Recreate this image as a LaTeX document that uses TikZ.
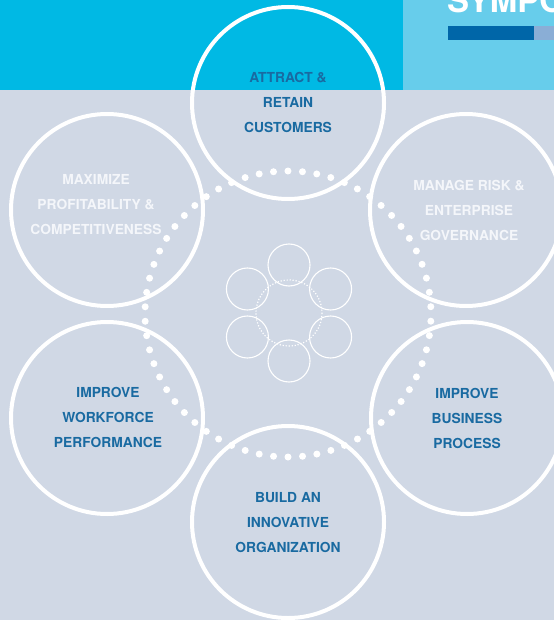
\documentclass[tikz,border=0pt]{standalone}
\usepackage{fontspec}
\setmainfont{TeX Gyre Heros}
\usetikzlibrary{calc}
\definecolor{sheet}{HTML}{D0D8E5}
\definecolor{band}{HTML}{00B9E4}
\definecolor{bandlight}{HTML}{67CDEB}
\definecolor{bardark}{HTML}{0066A8}
\definecolor{barpale}{HTML}{8AAED6}
\definecolor{goalblue}{HTML}{196AA1}
\definecolor{goalpale}{HTML}{F4F6FA}
\tikzset{
	x=1pt, y=-1pt,
	bigring/.style={circle, draw=white, line width=4pt, minimum size=192pt, inner sep=0pt},
	smallring/.style={circle, draw=white, line width=1.1pt, minimum size=42pt, inner sep=0pt},
	goal/.style={align=center, text=goalblue, font=\bfseries\fontsize{13.8}{25}\selectfont},
	palegoal/.style={goal, text=goalpale},
	heading/.style={anchor=base west, inner sep=0pt, text=white, font=\bfseries\fontsize{33}{36}\selectfont}}

\begin{document}
\begin{tikzpicture}
		\useasboundingbox (0,0) rectangle (554,620);
		\clip (0,0) rectangle (554,620);
		\fill[sheet] (0,0) rectangle (554,620);
		\fill[band] (0,0) rectangle (403,90);
		\fill[bandlight] (403,0) rectangle (554,90);
		\node[heading] (title) at (447,13) {SYMPO};
		\fill[bardark] (448,26) rectangle (534,40);
		\fill[barpale] (534,26) rectangle (554,40);

		% six goals round the hub
		\coordinate (hub) at (288,314);
		\node[bigring] (attract) at (288,103) {};
		\node[bigring] (maximize) at (107,210) {};
		\node[bigring] (manage) at (466,210) {};
		\node[bigring] (workforce) at (107,418) {};
		\node[bigring] (process) at (467,418) {};
		\node[bigring] (build) at (288,522) {};

		% dotted ring
		\foreach \i in {0,...,61}
			\fill[white] (hub) ++(90+\i*5.806:143) circle (3.5);

		% small icon
		\coordinate (icon) at (289,313);
		\foreach \a/\n in {90/a, 150/b, 210/c, 270/d, 330/e, 30/f}
			\node[smallring] (icon\n) at ($(icon)+(\a:48)$) {};
		\draw[white, line width=1.2pt, dash pattern=on 1.2pt off 1.8pt] (icon) circle (33);

		\node[goal] (attracttext) at (288,102) {ATTRACT \&\\RETAIN\\CUSTOMERS};
		\node[palegoal] (maximizetext) at (96,205) {MAXIMIZE\\PROFITABILITY \&\\COMPETITIVENESS};
		\node[palegoal] (managetext) at (469,210) {MANAGE RISK \&\\ENTERPRISE\\GOVERNANCE};
		\node[goal] (workforcetext) at (108,417) {IMPROVE\\WORKFORCE\\PERFORMANCE};
		\node[goal] (processtext) at (467,418) {IMPROVE\\BUSINESS\\PROCESS};
		\node[goal] (buildtext) at (288,523) {BUILD AN\\INNOVATIVE\\ORGANIZATION};
	\end{tikzpicture}
\end{document}
